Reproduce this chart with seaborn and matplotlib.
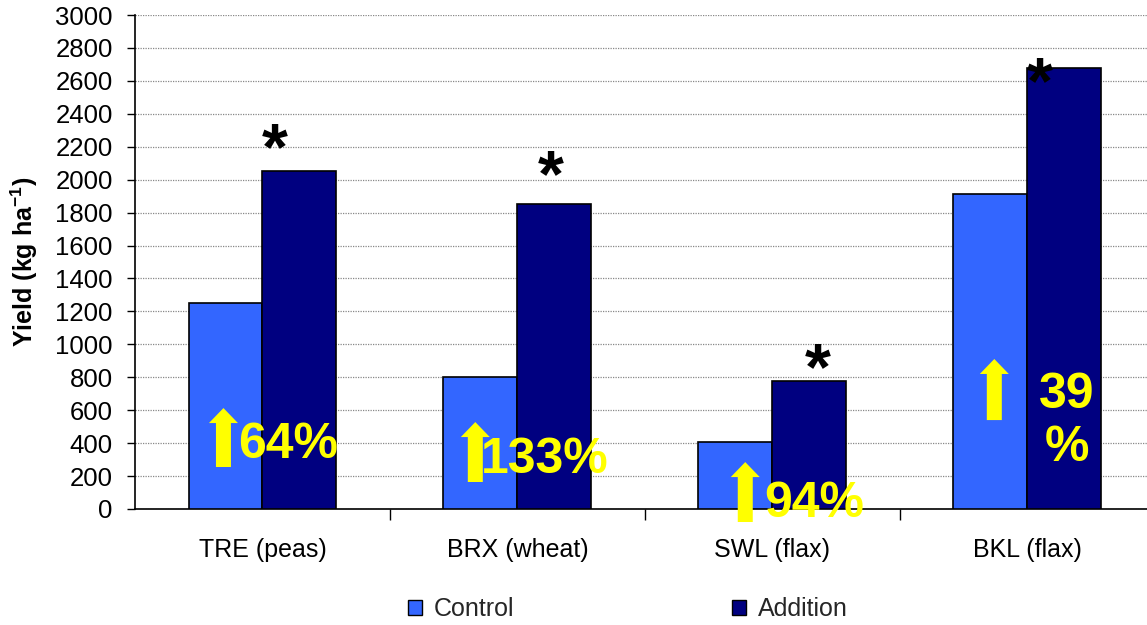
import matplotlib
matplotlib.use("Agg")
import matplotlib.pyplot as plt
from matplotlib.patches import FancyArrow
import seaborn as sns
import pandas as pd

# Yield per site and treatment (kg/ha)
sites = ["TRE (peas)", "BRX (wheat)", "SWL (flax)", "BKL (flax)"]
control = [1250, 800, 405, 1910]
addition = [2050, 1855, 780, 2680]
increase_labels = ["64%", "133%", "94%", "39\n%"]
treatments = ["Control", "Addition"]
colors = {"Control": "#3366FF", "Addition": "#000080"}

df = pd.DataFrame({
    "site": sites * 2,
    "treatment": ["Control"] * len(sites) + ["Addition"] * len(sites),
    "yield": control + addition,
})

sns.set_theme(style="white")
plt.rcParams["font.family"] = ["Liberation Sans", "DejaVu Sans"]

W, H = 1147, 625
fig = plt.figure(figsize=(W / 100, H / 100), dpi=100)
ax = fig.add_axes([135 / W, 1 - 509 / H, 1012 / W, 494 / H])

sns.barplot(data=df, x="site", y="yield", hue="treatment", hue_order=treatments,
            palette=colors, width=0.58, edgecolor="black", linewidth=1.2,
            saturation=1, ax=ax, legend=True, zorder=3)

ax.set_ylim(0, 3000)
ax.set_xlim(-0.5, 3.47)
ax.set_yticks(range(0, 3001, 200))
ax.yaxis.grid(True, color="#888888", linestyle=(0, (1, 1)), linewidth=0.9, zorder=0)
ax.set_axisbelow(True)
for s in ["top", "right"]:
    ax.spines[s].set_visible(False)
for s in ["left", "bottom"]:
    ax.spines[s].set_color("black")
    ax.spines[s].set_linewidth(1.2)

ax.tick_params(axis="y", which="major", direction="out", length=6, width=1,
               color="black", labelsize=18.5, pad=10, left=True, labelcolor="black")
ax.tick_params(axis="x", which="major", length=0, labelsize=18, pad=21,
               labelcolor="black")
ax.set_xticks([0.5, 1.5, 2.5], minor=True)
ax.tick_params(axis="x", which="minor", direction="out", length=8, width=1,
               color="black", bottom=True)
ax.set_xlabel("")
ax.set_ylabel("Yield (kg ha$^{\\mathregular{-1}}$)", fontsize=18, fontweight="bold",
              color="black")
ax.yaxis.set_label_coords(-(135 - 40) / 1012, 0.5)

# Legend below the axes
leg = ax.legend(loc="center", bbox_to_anchor=(628 / W, 1 - 609 / H),
                bbox_transform=fig.transFigure, ncol=2, frameon=False,
                fontsize=18, handlelength=0.55, handleheight=0.55,
                columnspacing=8.7, handletextpad=0.5)
for h in leg.legend_handles:
    h.set_edgecolor("black")
    h.set_linewidth(1.0)

px_per_pt = 100 / 72
px_per_x = 1020 / 4.0
px_per_y = 494 / 3000.0

# Significance asterisks above the addition bars
star_size = 48
bar_half = 0.29 / 2
star_dx_px = [-25, -4, 9, -24]
star_center_px = [40, 45, 29, 3]
for i, v in enumerate(addition):
    base_px = star_center_px[i] - 0.57 * star_size * px_per_pt
    ax.annotate("*", xy=(i + bar_half, v),
                xytext=(star_dx_px[i] / px_per_pt, base_px / px_per_pt),
                textcoords="offset points", ha="center", va="baseline",
                fontsize=star_size, fontweight="bold", color="black", zorder=5)

# Yellow increase arrows and percentages
arrow_pos = [(-0.153, 255, 613), (-0.165, 164, 528), (-0.106, -79, 285), (-0.129, 540, 911)]
text_pos = [(0.100, 310, "baseline"), (0.106, 219, "baseline"),
            (0.165, -49, "baseline"), (0.155, 530, "center")]
for i, lab in enumerate(increase_labels):
    dx, y0, y1 = arrow_pos[i]
    ax.add_patch(FancyArrow(i + dx, y0, 0, y1 - y0, width=15 / px_per_x,
                            head_width=29 / px_per_x,
                            head_length=15 / px_per_y,
                            length_includes_head=True, color="#FFFF00",
                            ec="none", zorder=6, clip_on=False))
    tx, ty, va = text_pos[i]
    ax.text(i + tx, ty, lab, ha="center", va=va, fontsize=36,
            fontweight="bold", color="#FFFF00", zorder=6, linespacing=1.2,
            clip_on=False)

fig.savefig("out.png", dpi=100)
